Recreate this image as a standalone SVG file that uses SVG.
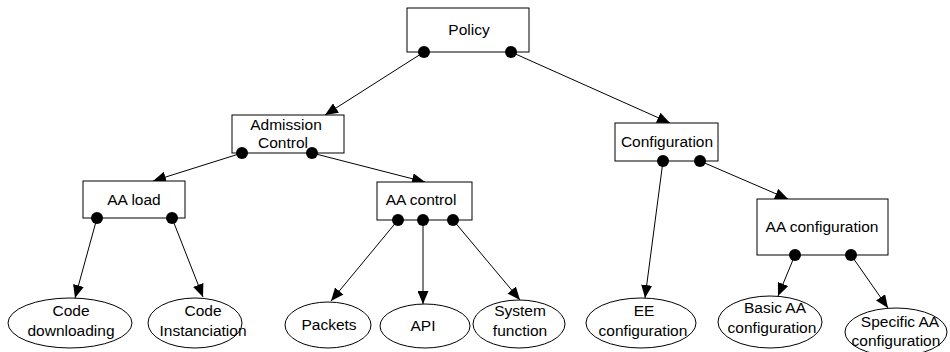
<svg xmlns="http://www.w3.org/2000/svg" width="950" height="352" viewBox="0 0 950 352">
<defs>
<style>
.box{fill:#fff;stroke:#000;stroke-width:1}
.ell{fill:#fff;stroke:#000;stroke-width:1}
.t{font-family:"Liberation Sans",Arial,sans-serif;font-size:15.5px;fill:#000;text-anchor:middle}
.e{stroke:#000;stroke-width:1;fill:none;marker-end:url(#arr)}
.dot{fill:#000}
</style>
<marker id="arr" viewBox="0 0 13 11" markerWidth="13" markerHeight="11" refX="13" refY="5.5" orient="auto" markerUnits="userSpaceOnUse">
<path d="M0,0 L13,5.5 L0,11 z" fill="#000"/>
</marker>
</defs>
<rect width="950" height="352" fill="#fff"/>
<g id="connectors">
<line class="e" x1="424" y1="52" x2="325" y2="115"/>
<line class="e" x1="511" y1="52" x2="670" y2="123"/>
<line class="e" x1="242" y1="153" x2="153" y2="181"/>
<line class="e" x1="312" y1="153" x2="425" y2="182"/>
<line class="e" x1="97" y1="218" x2="75" y2="298"/>
<line class="e" x1="172" y1="218" x2="203" y2="297"/>
<line class="e" x1="398" y1="220" x2="331" y2="301"/>
<line class="e" x1="423" y1="220" x2="423" y2="304"/>
<line class="e" x1="453" y1="220" x2="520" y2="300"/>
<line class="e" x1="663" y1="161" x2="645" y2="298"/>
<line class="e" x1="700" y1="161" x2="788" y2="199"/>
<line class="e" x1="795" y1="255" x2="778" y2="296"/>
<line class="e" x1="851" y1="255" x2="888" y2="308"/>
</g>
<g id="policy">
<rect class="box" x="407" y="8" width="122" height="44"/>
<text class="t" x="469" y="35">Policy</text>
<circle class="dot" cx="424" cy="52" r="6"/>
<circle class="dot" cx="511" cy="52" r="6"/>
</g>
<g id="admission-control">
<rect class="box" x="232" y="115" width="112" height="38"/>
<text class="t" x="286" y="130">Admission</text>
<text class="t" x="283" y="148">Control</text>
<circle class="dot" cx="242" cy="153" r="6"/>
<circle class="dot" cx="312" cy="153" r="6"/>
</g>
<g id="aa-load">
<rect class="box" x="83" y="181" width="102" height="37"/>
<text class="t" x="134" y="205">AA load</text>
<circle class="dot" cx="97" cy="218" r="6"/>
<circle class="dot" cx="172" cy="218" r="6"/>
</g>
<g id="aa-control">
<rect class="box" x="377" y="182" width="95" height="38"/>
<text class="t" x="421" y="205">AA control</text>
<circle class="dot" cx="398" cy="220" r="6"/>
<circle class="dot" cx="423" cy="220" r="6"/>
<circle class="dot" cx="453" cy="220" r="6"/>
</g>
<g id="configuration">
<rect class="box" x="615" y="123" width="103" height="38"/>
<text class="t" x="667" y="147">Configuration</text>
<circle class="dot" cx="663" cy="161" r="6"/>
<circle class="dot" cx="700" cy="161" r="6"/>
</g>
<g id="aa-configuration">
<rect class="box" x="757" y="199" width="131" height="56"/>
<text class="t" x="822" y="232">AA configuration</text>
<circle class="dot" cx="795" cy="255" r="6"/>
<circle class="dot" cx="851" cy="255" r="6"/>
</g>
<g id="code-downloading">
<ellipse class="ell" cx="70" cy="323" rx="62" ry="25"/>
<text class="t" x="71" y="316">Code</text>
<text class="t" x="71" y="336">downloading</text>
</g>
<g id="code-instanciation">
<ellipse class="ell" cx="195" cy="323" rx="47" ry="25"/>
<text class="t" x="203" y="316">Code</text>
<text class="t" x="203" y="336">Instanciation</text>
</g>
<g id="packets">
<ellipse class="ell" cx="328" cy="325" rx="43" ry="23"/>
<text class="t" x="329" y="330">Packets</text>
</g>
<g id="api">
<ellipse class="ell" cx="425" cy="326" rx="45" ry="22"/>
<text class="t" x="423" y="331">API</text>
</g>
<g id="system-function">
<ellipse class="ell" cx="519" cy="324" rx="46" ry="24"/>
<text class="t" x="520" y="316">System</text>
<text class="t" x="520" y="336">function</text>
</g>
<g id="ee-configuration">
<ellipse class="ell" cx="641" cy="323" rx="55" ry="25"/>
<text class="t" x="644" y="316">EE</text>
<text class="t" x="643" y="336">configuration</text>
</g>
<g id="basic-aa-configuration">
<ellipse class="ell" cx="770" cy="322" rx="52" ry="26"/>
<text class="t" x="775" y="313">Basic AA</text>
<text class="t" x="772" y="333">configuration</text>
</g>
<g id="specific-aa-configuration">
<ellipse class="ell" cx="896" cy="332" rx="51" ry="24"/>
<text class="t" x="900" y="327">Specific AA</text>
<text class="t" x="896" y="346">configuration</text>
</g>
</svg>
